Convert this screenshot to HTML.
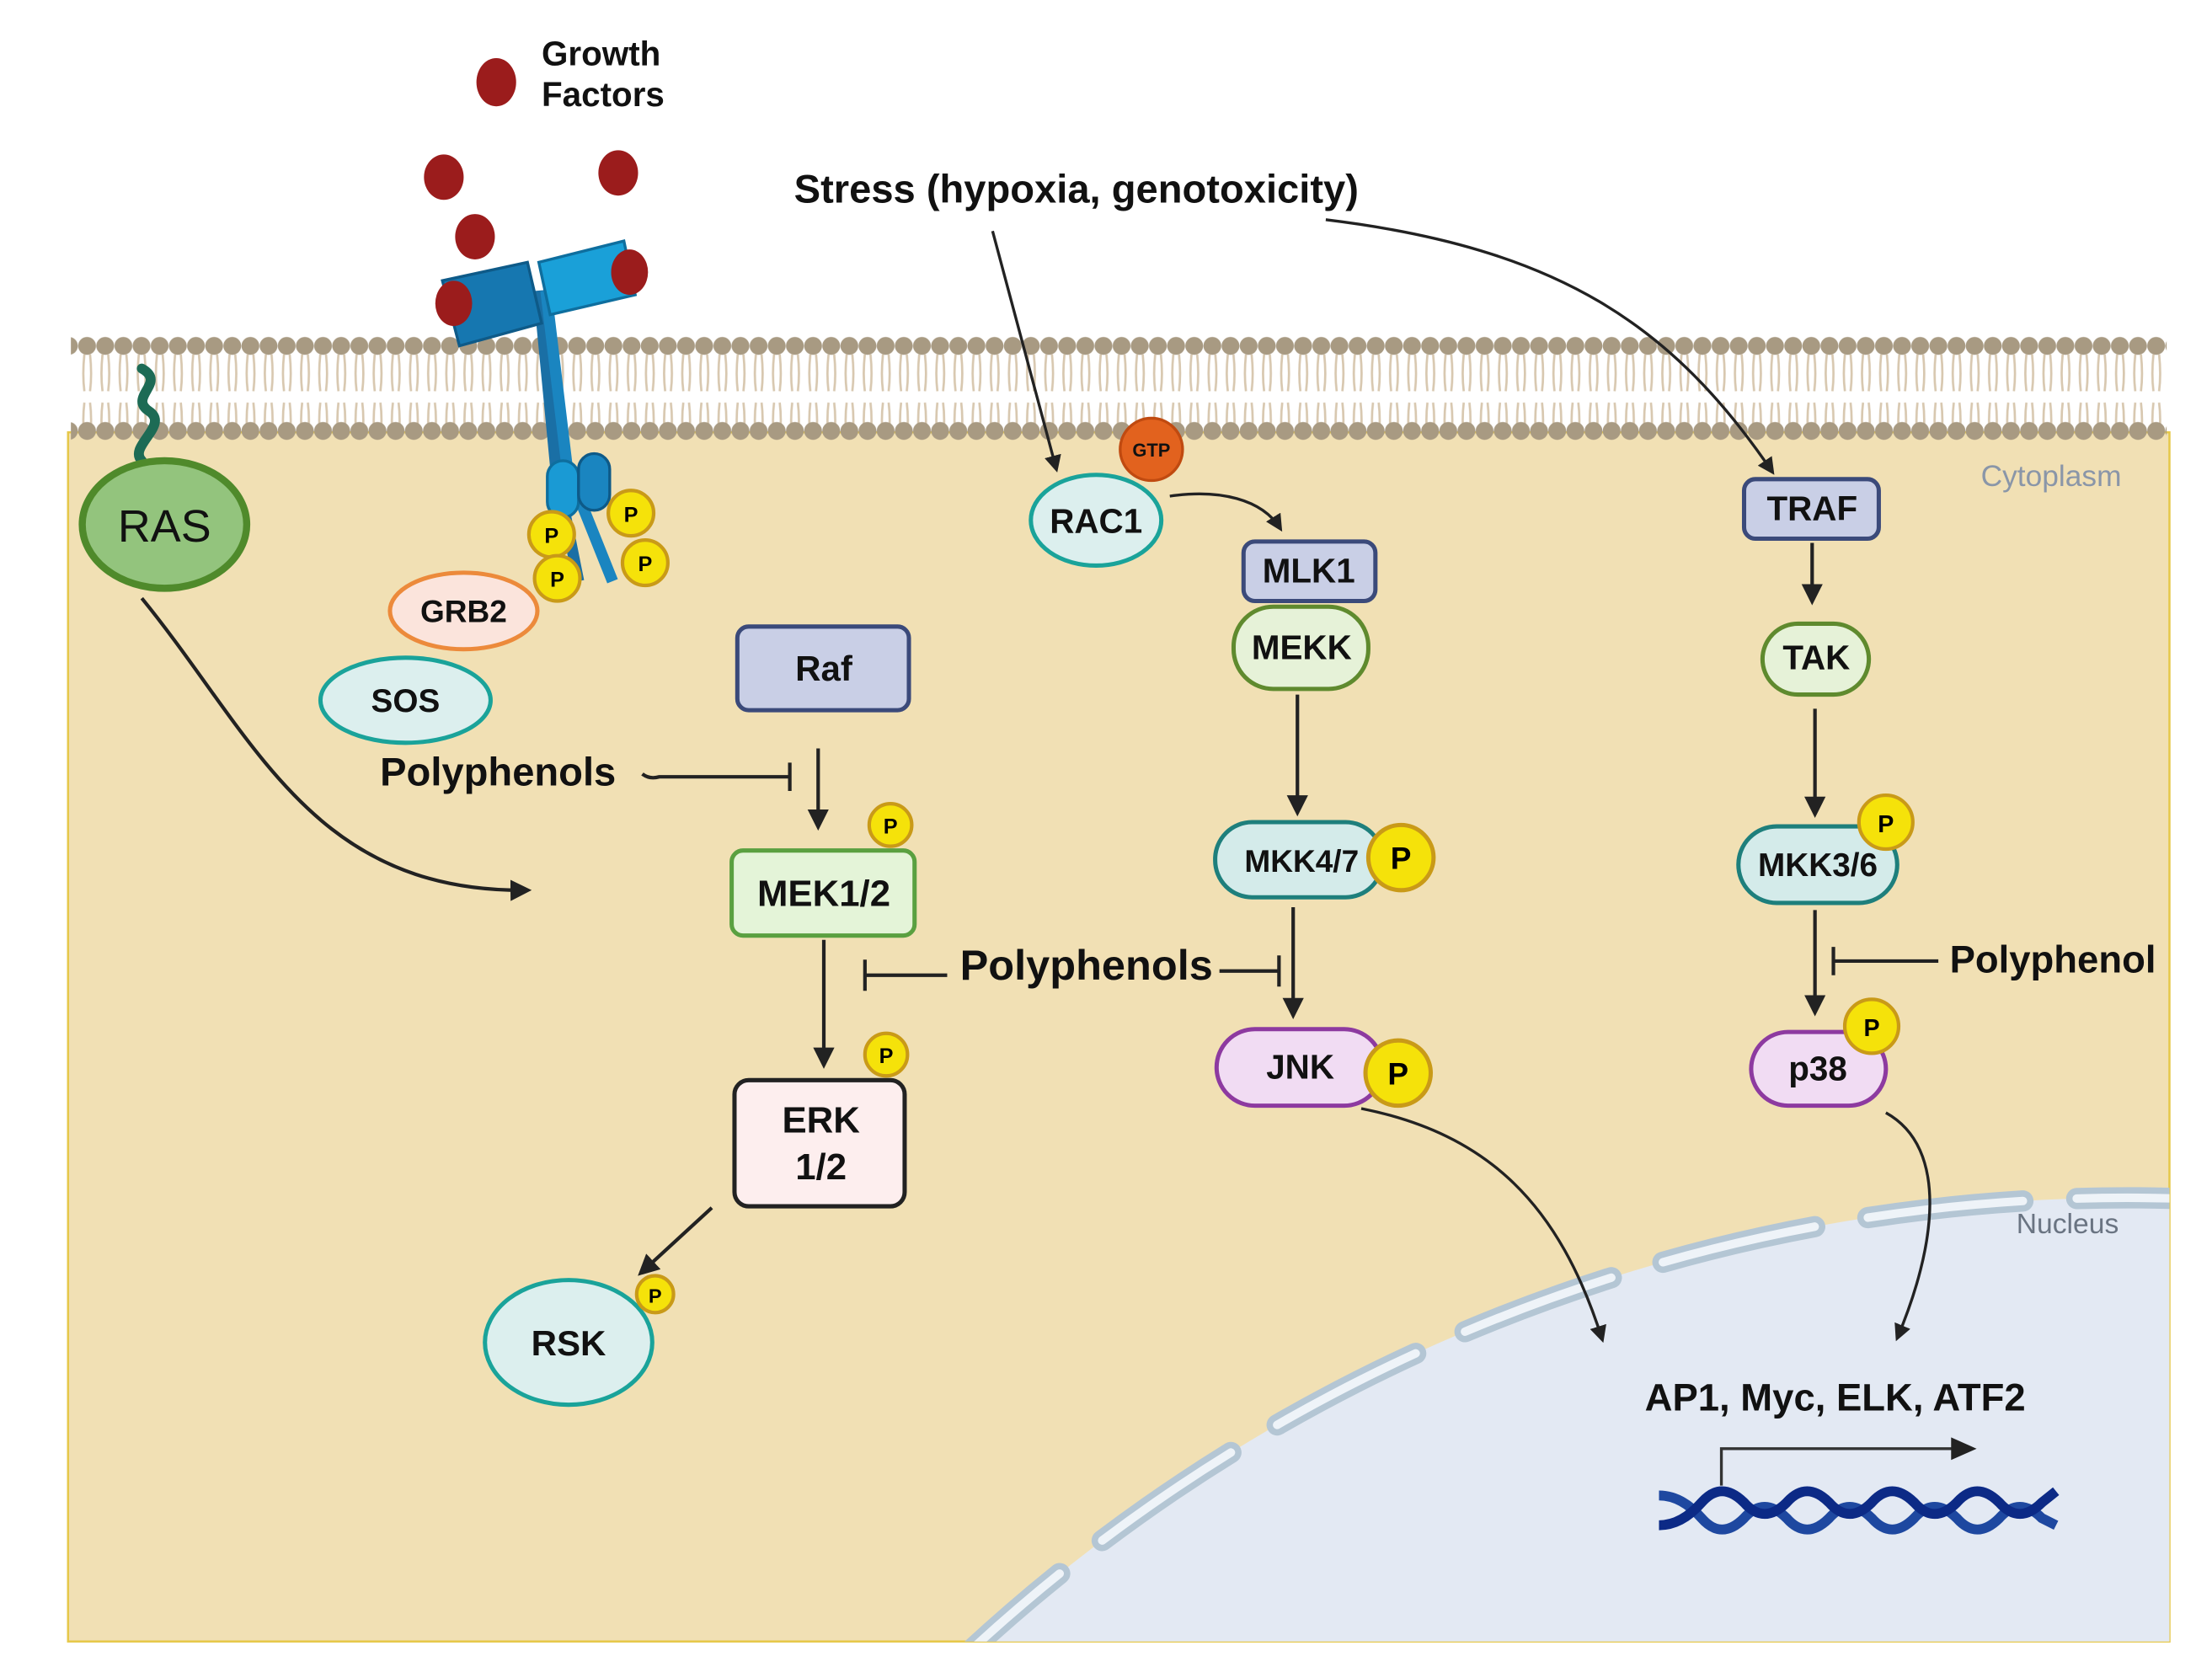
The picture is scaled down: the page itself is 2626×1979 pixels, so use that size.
<!DOCTYPE html>
<html><head><meta charset="utf-8"><style>
html,body{margin:0;padding:0;background:#fff;width:2626px;height:1979px;overflow:hidden;}
svg{display:block;}
text{font-family:"Liberation Sans",sans-serif;}
.b{font-weight:bold;fill:#111;}
</style></head><body>
<svg width="2626" height="1979" viewBox="0 0 1560 1176" preserveAspectRatio="none" xmlns="http://www.w3.org/2000/svg">
<defs>
<marker id="ar" viewBox="0 0 10 10" refX="8" refY="5" markerWidth="6" markerHeight="6" orient="auto-start-reverse"><path d="M0,0 L10,5 L0,10 z" fill="#222"/></marker>
<clipPath id="cyto"><rect x="48" y="305" width="1482" height="853"/></clipPath>
<pattern id="tails" x="55" y="250" width="12.8" height="60" patternUnits="userSpaceOnUse">
<path d="M4.5,0 Q3,14 4.5,26 M8.5,0 Q10,14 8.5,26 M4.5,34 Q3,46 4.5,60 M8.5,34 Q10,46 8.5,60" stroke="#d8c8b0" stroke-width="1.6" fill="none"/>
</pattern>
<pattern id="heads" x="55" y="0" width="12.8" height="400" patternUnits="userSpaceOnUse">
<circle cx="6.4" cy="244" r="6.3" fill="#a89a82"/><circle cx="6.4" cy="304" r="6.3" fill="#a89a82"/>
</pattern>
</defs>
<rect width="1560" height="1176" fill="#fff"/>
<rect x="48" y="305" width="1482" height="853" fill="#f1e0b4" stroke="#e6c84a" stroke-width="1.5"/>
<g clip-path="url(#cyto)">
<circle cx="1500" cy="2046" r="1201" fill="#e3e9f3"/>
<circle cx="1500" cy="2046" r="1201" fill="none" stroke="#b4c6d4" stroke-width="15" stroke-dasharray="110 38" stroke-linecap="round"/>
<circle cx="1500" cy="2046" r="1201" fill="none" stroke="#eef3f8" stroke-width="6" stroke-dasharray="110 38" stroke-linecap="round"/>
</g>
<rect x="55" y="250" width="1472" height="50" fill="url(#tails)"/>
<rect x="50" y="230" width="1478" height="85" fill="url(#heads)"/>
<text x="1397" y="343" font-size="21" fill="#8a96a8">Cytoplasm</text>
<text x="1422" y="870" font-size="20" fill="#6a7482">Nucleus</text>

<text x="382" y="46" font-size="24" class="b">Growth</text>
<text x="382" y="75" font-size="24" class="b">Factors</text>
<g fill="#9b1c1c">
<ellipse cx="350" cy="58" rx="14" ry="17"/><ellipse cx="313" cy="125" rx="14" ry="16"/>
<ellipse cx="436" cy="122" rx="14" ry="16"/><ellipse cx="335" cy="167" rx="14" ry="16"/>
</g>
<path d="M380,205 L392,330 L408,410" stroke="#1a6fa5" stroke-width="8" fill="none"/>
<path d="M385,205 L400,330 L432,410" stroke="#1a85c0" stroke-width="8" fill="none"/>
<polygon points="312,198 372,185 382,228 324,244" fill="#1677b0" stroke="#0e5a88" stroke-width="2"/>
<polygon points="380,185 440,170 448,208 388,222" fill="#1aa0d8" stroke="#0e6e9e" stroke-width="2"/>
<ellipse cx="320" cy="214" rx="13" ry="16" fill="#9b1c1c"/>
<ellipse cx="444" cy="192" rx="13" ry="16" fill="#9b1c1c"/>
<rect x="386" y="325" width="22" height="40" rx="11" fill="#1a9ad4" stroke="#0e6e9e" stroke-width="2"/>
<rect x="408" y="320" width="22" height="40" rx="11" fill="#1a85c0" stroke="#0e5a88" stroke-width="2"/>
<g font-size="15" font-weight="bold" text-anchor="middle">
<circle cx="445" cy="362" r="16" fill="#f5e20a" stroke="#c99a18" stroke-width="2.5"/><text x="445" y="368">P</text>
<circle cx="389" cy="377" r="16" fill="#f5e20a" stroke="#c99a18" stroke-width="2.5"/><text x="389" y="383">P</text>
<circle cx="393" cy="408" r="16" fill="#f5e20a" stroke="#c99a18" stroke-width="2.5"/><text x="393" y="414">P</text>
<circle cx="455" cy="397" r="16" fill="#f5e20a" stroke="#c99a18" stroke-width="2.5"/><text x="455" y="403">P</text>
</g>

<path d="M100,325 C90,315 120,300 105,290 C90,280 118,270 100,260" stroke="#1d6b55" stroke-width="7" fill="none" stroke-linecap="round"/>
<ellipse cx="116" cy="370" rx="58" ry="45" fill="#93c47d" stroke="#4f8a2b" stroke-width="5"/>
<text x="116" y="382" font-size="32" text-anchor="middle" fill="#111">RAS</text>
<path d="M100,422 C180,520 220,630 372,628" stroke="#222" stroke-width="2.5" fill="none" marker-end="url(#ar)"/>

<ellipse cx="327" cy="431" rx="52" ry="27" fill="#fbe4dc" stroke="#ec8a3b" stroke-width="3"/>
<text x="327" y="439" font-size="22" text-anchor="middle" class="b">GRB2</text>
<ellipse cx="286" cy="494" rx="60" ry="30" fill="#dcefee" stroke="#1aa39a" stroke-width="3"/>
<text x="286" y="502" font-size="23" text-anchor="middle" class="b">SOS</text>

<rect x="520" y="442" width="121" height="59" rx="8" fill="#c9cfe6" stroke="#3b4a7a" stroke-width="3"/>
<text x="581" y="480" font-size="25" text-anchor="middle" class="b">Raf</text>
<path d="M577,528 L577,583" stroke="#222" stroke-width="2.5" marker-end="url(#ar)"/>
<text x="268" y="554" font-size="28" class="b">Polyphenols</text>
<path d="M453,546 Q458,550 465,548 L557,548 M557,538 L557,558" stroke="#222" stroke-width="2.5" fill="none"/>

<rect x="516" y="600" width="129" height="60" rx="8" fill="#e4f4d8" stroke="#5aa040" stroke-width="3"/>
<text x="581" y="639" font-size="26" text-anchor="middle" class="b">MEK1/2</text>
<circle cx="628" cy="582" r="15" fill="#f5e20a" stroke="#c99a18" stroke-width="2.5"/><text x="628" y="588" font-size="15" font-weight="bold" text-anchor="middle">P</text>
<path d="M581,663 L581,751" stroke="#222" stroke-width="2.5" marker-end="url(#ar)"/>

<rect x="518" y="762" width="120" height="89" rx="10" fill="#fdeeee" stroke="#222" stroke-width="3"/>
<text x="579" y="799" font-size="26" text-anchor="middle" class="b">ERK</text>
<text x="579" y="832" font-size="26" text-anchor="middle" class="b">1/2</text>
<circle cx="625" cy="744" r="15" fill="#f5e20a" stroke="#c99a18" stroke-width="2.5"/><text x="625" y="750" font-size="15" font-weight="bold" text-anchor="middle">P</text>
<path d="M502,852 L452,898" stroke="#222" stroke-width="2.5" marker-end="url(#ar)"/>
<ellipse cx="401" cy="947" rx="59" ry="44" fill="#dcefee" stroke="#1aa39a" stroke-width="3"/>
<text x="401" y="956" font-size="25" text-anchor="middle" class="b">RSK</text>
<circle cx="462" cy="913" r="13" fill="#f5e20a" stroke="#c99a18" stroke-width="2.5"/><text x="462" y="919" font-size="14" font-weight="bold" text-anchor="middle">P</text>

<text x="560" y="143" font-size="28" class="b">Stress (hypoxia, genotoxicity)</text>
<path d="M700,163 L745,331" stroke="#222" stroke-width="2" marker-end="url(#ar)"/>
<path d="M935,155 C1100,175 1180,230 1250,333" stroke="#222" stroke-width="2" fill="none" marker-end="url(#ar)"/>

<ellipse cx="773" cy="367" rx="46" ry="32" fill="#dcefee" stroke="#1aa39a" stroke-width="3"/>
<text x="773" y="376" font-size="24" text-anchor="middle" class="b">RAC1</text>
<circle cx="812" cy="317" r="22" fill="#e2621e" stroke="#c04a10" stroke-width="2"/>
<text x="812" y="322" font-size="13" font-weight="bold" text-anchor="middle" fill="#111">GTP</text>
<path d="M825,350 C860,345 890,352 903,373" stroke="#222" stroke-width="2" fill="none" marker-end="url(#ar)"/>

<rect x="877" y="382" width="93" height="42" rx="8" fill="#c9cfe6" stroke="#3b4a7a" stroke-width="3"/>
<text x="923" y="411" font-size="24" text-anchor="middle" class="b">MLK1</text>
<rect x="870" y="428" width="95" height="58" rx="28" fill="#e6f2d8" stroke="#5f8a2e" stroke-width="3"/>
<text x="918" y="465" font-size="24" text-anchor="middle" class="b">MEKK</text>
<path d="M915,490 L915,573" stroke="#222" stroke-width="2.5" marker-end="url(#ar)"/>
<rect x="857" y="580" width="118" height="53" rx="26" fill="#d4ebea" stroke="#1e7f7c" stroke-width="3"/>
<text x="918" y="615" font-size="22" text-anchor="middle" class="b">MKK4/7</text>
<circle cx="988" cy="605" r="23" fill="#f5e20a" stroke="#c99a18" stroke-width="3"/><text x="988" y="613" font-size="22" font-weight="bold" text-anchor="middle">P</text>

<text x="677" y="691" font-size="30" class="b">Polyphenols</text>
<path d="M610,688 L668,688 M610,677 L610,699 M860,685 L902,685 M902,674 L902,696" stroke="#222" stroke-width="2.5" fill="none"/>
<path d="M912,640 L912,716" stroke="#222" stroke-width="2.5" marker-end="url(#ar)"/>

<rect x="858" y="726" width="117" height="54" rx="27" fill="#f1dcf3" stroke="#8d3aa0" stroke-width="3"/>
<text x="917" y="761" font-size="24" text-anchor="middle" class="b">JNK</text>
<circle cx="986" cy="757" r="23" fill="#f5e20a" stroke="#c99a18" stroke-width="3"/><text x="986" y="765" font-size="22" font-weight="bold" text-anchor="middle">P</text>
<path d="M960,782 C1050,800 1100,850 1130,945" stroke="#222" stroke-width="2" fill="none" marker-end="url(#ar)"/>

<rect x="1230" y="338" width="95" height="42" rx="8" fill="#c9cfe6" stroke="#3b4a7a" stroke-width="3"/>
<text x="1278" y="367" font-size="24" text-anchor="middle" class="b">TRAF</text>
<path d="M1278,383 L1278,424" stroke="#222" stroke-width="2.5" marker-end="url(#ar)"/>
<rect x="1243" y="440" width="75" height="50" rx="25" fill="#e6f2d8" stroke="#5f8a2e" stroke-width="3"/>
<text x="1281" y="472" font-size="24" text-anchor="middle" class="b">TAK</text>
<path d="M1280,500 L1280,574" stroke="#222" stroke-width="2.5" marker-end="url(#ar)"/>
<rect x="1226" y="583" width="112" height="54" rx="27" fill="#d4ebea" stroke="#1e7f7c" stroke-width="3"/>
<text x="1282" y="618" font-size="23" text-anchor="middle" class="b">MKK3/6</text>
<circle cx="1330" cy="580" r="19" fill="#f5e20a" stroke="#c99a18" stroke-width="2.5"/><text x="1330" y="587" font-size="17" font-weight="bold" text-anchor="middle">P</text>
<path d="M1280,642 L1280,714" stroke="#222" stroke-width="2.5" marker-end="url(#ar)"/>
<path d="M1293,668 L1293,688 M1293,678 L1367,678" stroke="#222" stroke-width="2.5" fill="none"/>
<text x="1375" y="686" font-size="27" class="b">Polyphenol</text>
<rect x="1235" y="728" width="95" height="52" rx="26" fill="#f1dcf3" stroke="#8d3aa0" stroke-width="3"/>
<text x="1282" y="762" font-size="24" text-anchor="middle" class="b">p38</text>
<circle cx="1320" cy="724" r="19" fill="#f5e20a" stroke="#c99a18" stroke-width="2.5"/><text x="1320" y="731" font-size="17" font-weight="bold" text-anchor="middle">P</text>
<path d="M1330,785 C1375,810 1365,880 1338,944" stroke="#222" stroke-width="2" fill="none" marker-end="url(#ar)"/>

<text x="1160" y="995" font-size="27" class="b">AP1, Myc, ELK, ATF2</text>
<path d="M1214,1048 L1214,1022 L1380,1022" stroke="#333" stroke-width="2" fill="none"/>
<path d="M1376,1014 L1394,1022 L1376,1030 z" fill="#222"/>
<g fill="none" stroke-width="7">
<path d="M1170,1055 Q1186,1055 1200,1071 Q1214,1087 1230,1071 Q1244,1055 1260,1071 Q1274,1087 1290,1071 Q1304,1055 1320,1071 Q1334,1087 1350,1071 Q1364,1055 1380,1071 Q1394,1087 1410,1071 Q1424,1055 1440,1071 L1450,1076" stroke="#1e48a0"/>
<path d="M1170,1076 Q1186,1076 1200,1060 Q1214,1044 1230,1060 Q1244,1076 1260,1060 Q1274,1044 1290,1060 Q1304,1076 1320,1060 Q1334,1044 1350,1060 Q1364,1076 1380,1060 Q1394,1044 1410,1060 Q1424,1076 1440,1060 L1450,1052" stroke="#0c2a86"/>
</g>
</svg>
</body></html>
